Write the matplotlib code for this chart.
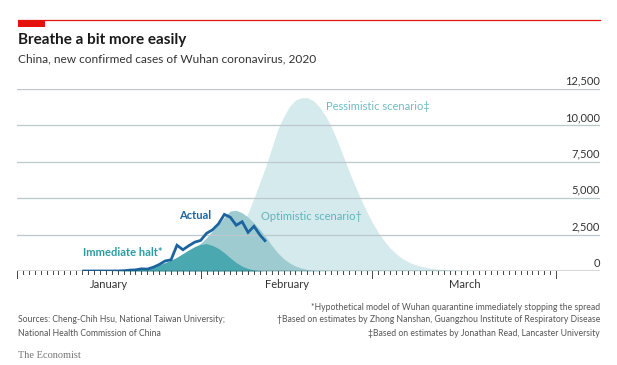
import matplotlib
matplotlib.use('Agg')
import matplotlib.pyplot as plt
from matplotlib.patches import Rectangle
from matplotlib.lines import Line2D

plt.rcParams['font.family'] = ['Lato', 'DejaVu Sans']

# x values are days counted from 1 January 2020 (0 = start of Jan 1)
actual_days = [11, 12, 13, 14, 15, 16, 17, 18, 19, 20, 21, 22, 23, 24, 25, 26,
               27, 28, 29, 30, 31, 32, 33, 34, 35, 36, 37, 38, 39, 40, 41, 42]
actual_cases = [0, 0, 0, 0, 0, 0, 4, 17, 59, 77, 149, 131, 259, 444, 688, 769,
                1771, 1459, 1737, 1981, 2102, 2590, 2829, 3235, 3887, 3694, 3143,
                3385, 2652, 3073, 2478, 2015]

halt_days = [14, 16, 18, 20, 22, 23, 24, 25, 26, 27, 28, 29, 30, 31, 32, 33,
             34, 35, 36, 37, 38, 39, 40, 41, 42]
halt_cases = [0, 10, 30, 80, 200, 300, 420, 580, 750, 950, 1200, 1450, 1680, 1830,
              1880, 1750, 1550, 1250, 900, 580, 330, 170, 70, 20, 0]

opt_days = [16, 18, 20, 22, 24, 25, 26, 27, 28, 29, 30, 31, 32, 33, 34, 35, 36,
            37, 38, 39, 40, 41, 42, 43, 44, 45, 46, 47, 48, 49, 50, 52, 54]
opt_cases = [0, 20, 50, 130, 300, 420, 580, 780, 1020, 1300, 1620, 1900, 2300,
             2750, 3200, 3700, 4120, 4170, 4000, 3700, 3300, 2850, 2340, 1750,
             1250, 850, 550, 340, 200, 100, 50, 10, 0]

pess_days = [20, 22, 24, 26, 28, 30, 31, 32, 33, 34, 35, 36, 37, 38, 39, 40, 41,
             42, 43, 44, 45, 46, 47, 48, 49, 50, 51, 52, 53, 54, 55, 56, 57, 58,
             59, 60, 61, 62, 63, 64, 65, 66, 67, 68, 69, 70, 72, 74, 76, 78, 80]
pess_cases = [0, 5, 10, 30, 80, 175, 280, 420, 630, 900, 1280, 1770, 2380, 3130,
              4000, 5000, 6100, 7200, 8450, 9700, 10600, 11300, 11750, 11900,
              11900, 11700, 11300, 10700, 9950, 9000, 7950, 6900, 5900, 4970,
              4100, 3320, 2640, 2060, 1570, 1180, 870, 640, 470, 340, 250, 180,
              100, 50, 20, 5, 0]

month_starts = [0, 31, 60, 91]
month_names = ['January', 'February', 'March']
y_ticks = [0, 2500, 5000, 7500, 10000, 12500]

fig = plt.figure(figsize=(6.17, 3.65), dpi=100)
W, H = 617, 365
ax = fig.add_axes([17 / W, 1 - 271 / H, (600 - 17) / W, (271 - 89) / H])

c_pess = '#d5eaec'
c_opt = '#9dcbd0'
c_halt = '#4aa9b0'
c_line = '#1c64a0'

ax.fill_between(pess_days, pess_cases, color=c_pess, lw=0, zorder=1)
ax.fill_between(opt_days, opt_cases, color=c_opt, lw=0, zorder=2)
ax.fill_between(halt_days, halt_cases, color=c_halt, lw=0, zorder=3)
for yv in y_ticks[1:]:
    ax.axhline(yv, color='#bcc8ce', lw=0.9, zorder=3.5)
ax.plot(actual_days, actual_cases, color=c_line, lw=2, zorder=5,
        solid_joinstyle='miter', solid_capstyle='butt')
ax.axhline(0, color='#333333', lw=1, zorder=6)

ax.set_xlim(0, 98.4)
ax.set_ylim(0, 12500)
for s in ax.spines.values():
    s.set_visible(False)
ax.set_xticks([])
ax.set_yticks([])

# day ticks below the axis
for d in range(0, 92):
    major = d in month_starts
    ax.add_line(Line2D([d, d], [0, -460 if major else -210], color='#444444',
                       lw=0.7, clip_on=False, zorder=6))
for i, name in enumerate(month_names):
    mid = (month_starts[i] + month_starts[i + 1]) / 2
    ax.text(mid, -560, name, ha='center', va='top', fontsize=8, color='#333333')

for yv in y_ticks:
    ax.text(98.4, yv + 170, f'{yv:,}', ha='right', va='bottom', fontsize=8,
            color='#333333')

ax.text(52.2, 11330, 'Pessimistic scenario\u2021', fontsize=8, color='#6fbcc3',
        va='center', ha='left', zorder=7)
ax.text(41.2, 3710, 'Optimistic scenario\u2020', fontsize=8, color='#5fb4bb',
        va='center', ha='left', zorder=7)
ax.text(32.8, 3780, 'Actual', fontsize=8, color=c_line, fontweight='bold',
        va='center', ha='right', zorder=7)
ax.text(24.6, 1240, 'Immediate halt*', fontsize=8, color='#2c9ca3',
        fontweight='bold', va='center', ha='right', zorder=7)

# header
fig.add_artist(Line2D([18 / W, 600 / W], [1 - 19.5 / H, 1 - 19.5 / H],
                      color='#e3120b', lw=0.9))
fig.add_artist(Rectangle((18 / W, 1 - 27 / H), 27 / W, 7.5 / H,
                         color='#e3120b', lw=0))
fig.text(18 / W, 1 - 40 / H, 'Breathe a bit more easily', fontsize=11,
         fontweight='bold', color='#1a1a1a', va='center', ha='left')
fig.text(18 / W, 1 - 59 / H,
         'China, new confirmed cases of Wuhan coronavirus, 2020',
         fontsize=8.6, color='#333333', va='center', ha='left')

# footer
foot = dict(fontsize=6.2, color='#555555', va='center')
fig.text(18 / W, 1 - 320 / H,
         'Sources: Cheng-Chih Hsu, National Taiwan University;', ha='left', **foot)
fig.text(18 / W, 1 - 333 / H, 'National Health Commission of China', ha='left', **foot)
fig.text(600 / W, 1 - 308 / H,
         '*Hypothetical model of Wuhan quarantine immediately stopping the spread',
         ha='right', **foot)
fig.text(600 / W, 1 - 320 / H,
         '\u2020Based on estimates by Zhong Nanshan, Guangzhou Institute of Respiratory Disease',
         ha='right', **foot)
fig.text(600 / W, 1 - 333 / H,
         '\u2021Based on estimates by Jonathan Read, Lancaster University',
         ha='right', **foot)
fig.text(18 / W, 1 - 355 / H, 'The Economist', fontsize=7.5, color='#777777',
         family='Liberation Serif', va='center', ha='left')

fig.savefig('out.png', dpi=100)
